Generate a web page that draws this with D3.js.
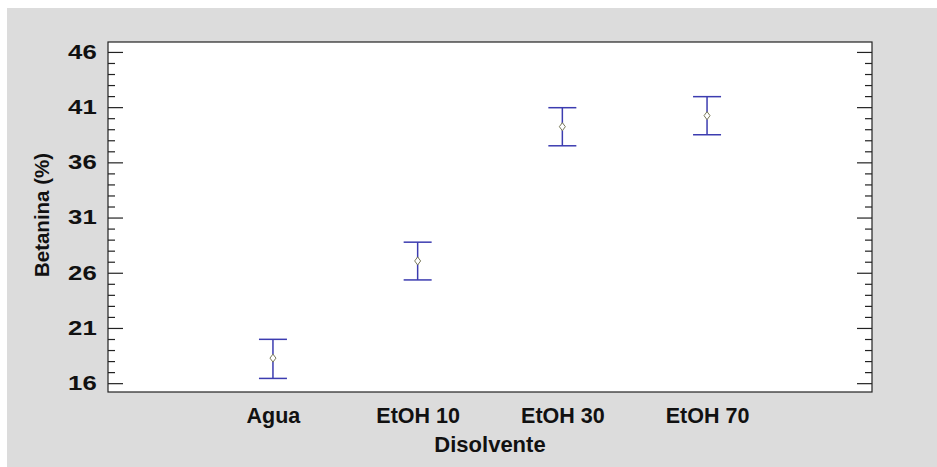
<!DOCTYPE html>
<html>
<head>
<meta charset="utf-8">
<script src="https://cdn.jsdelivr.net/npm/d3@7"></script>
<style>
  html, body { margin: 0; padding: 0; background: #ffffff; }
  svg { display: block; }
  text { font-family: "Liberation Sans", Arial, sans-serif; font-weight: bold; fill: #111; }
</style>
</head>
<body>
<svg id="chart" width="937" height="467"></svg>
<script>
// Solvent groups and betanin means with interval limits
const categories = ["Agua", "EtOH 10", "EtOH 30", "EtOH 70"];
const means = [18.27, 27.07, 39.23, 40.23];
const lower = [16.43, 25.35, 37.50, 38.50];
const upper = [19.97, 28.77, 40.95, 41.95];
const yTicks = [16, 21, 26, 31, 36, 41, 46];
const xTitle = "Disolvente";
const yTitle = "Betanina (%)";

const svg = d3.select("#chart");
const W = 937, H = 467;
const plot = { left: 108, right: 872, top: 42, bottom: 392 };

// grey panel behind the chart
svg.append("rect").attr("x", 7).attr("y", 8).attr("width", W - 7).attr("height", H - 8)
  .attr("fill", "#dcdcdc");

const x = d3.scalePoint().domain(categories).range([plot.left, plot.right]).padding(1.14);
const y = d3.scaleLinear().domain([15.2, 46.9]).range([plot.bottom, plot.top]);

// plot area
svg.append("rect").attr("x", plot.left).attr("y", plot.top)
  .attr("width", plot.right - plot.left).attr("height", plot.bottom - plot.top)
  .attr("fill", "#ffffff").attr("stroke", "#222").attr("stroke-width", 1.2);

// minor ticks every unit, major ticks on labelled values, on both sides pointing inward
const minor = d3.range(16, 47).filter(v => !yTicks.includes(v));
const axisL = g => g.attr("transform", `translate(${plot.left},0)`);
const leftMajor = svg.append("g").call(axisL)
  .call(d3.axisRight(y).tickValues(yTicks).tickSize(15).tickFormat(""));
const leftMinor = svg.append("g").call(axisL)
  .call(d3.axisRight(y).tickValues(minor).tickSize(7).tickFormat(""));
const rightMajor = svg.append("g").attr("transform", `translate(${plot.right},0)`)
  .call(d3.axisLeft(y).tickValues(yTicks).tickSize(15).tickFormat(""));
const rightMinor = svg.append("g").attr("transform", `translate(${plot.right},0)`)
  .call(d3.axisLeft(y).tickValues(minor).tickSize(7).tickFormat(""));
[leftMajor, leftMinor, rightMajor, rightMinor].forEach(g => {
  g.select(".domain").remove();
  g.selectAll("line").attr("stroke", "#222").attr("stroke-width", 1.2);
});

// y tick labels (wide digits)
const stretch = 1.32;
const yLab = svg.append("g").attr("transform", `translate(${plot.left},0)`)
  .call(d3.axisLeft(y).tickValues(yTicks).tickSize(0).tickPadding(11).tickFormat(d3.format("d")));
yLab.select(".domain").remove();
yLab.selectAll("text").attr("font-size", 19.5).attr("font-family", "Liberation Sans, Arial, sans-serif")
  .attr("font-weight", "bold").attr("fill", "#111")
  .attr("x", -11.3 / stretch).attr("transform", `scale(${stretch},1)`);

// x tick labels
const xLab = svg.append("g").attr("transform", `translate(0,${plot.bottom})`)
  .call(d3.axisBottom(x).tickSize(0).tickPadding(16));
xLab.select(".domain").remove();
xLab.selectAll("text").attr("font-size", 21.5).attr("font-family", "Liberation Sans, Arial, sans-serif")
  .attr("font-weight", "bold").attr("fill", "#111");

// axis titles
svg.append("text").attr("x", (plot.left + plot.right) / 2).attr("y", 452).attr("text-anchor", "middle")
  .attr("font-size", 22).text(xTitle);
svg.append("text").attr("transform", "translate(49,215) rotate(-90)").attr("text-anchor", "middle")
  .attr("font-size", 20.5).text(yTitle);

// interval bars
const blue = "#3c3cb0";
const cap = 14;
const bars = svg.append("g");
categories.forEach((c, i) => {
  const cx = x(c);
  bars.append("line").attr("x1", cx).attr("x2", cx).attr("y1", y(upper[i])).attr("y2", y(lower[i]))
    .attr("stroke", blue).attr("stroke-width", 1.5);
  bars.append("line").attr("x1", cx - cap).attr("x2", cx + cap).attr("y1", y(upper[i])).attr("y2", y(upper[i]))
    .attr("stroke", blue).attr("stroke-width", 1.5);
  bars.append("line").attr("x1", cx - cap).attr("x2", cx + cap).attr("y1", y(lower[i])).attr("y2", y(lower[i]))
    .attr("stroke", blue).attr("stroke-width", 1.5);
  // mean marker
  const my = y(means[i]);
  bars.append("path")
    .attr("d", `M${cx},${my - 4}L${cx + 3},${my}L${cx},${my + 4}L${cx - 3},${my}Z`)
    .attr("fill", "#ffffff").attr("stroke", "#7a7a5a").attr("stroke-width", 1);
});
</script>
</body>
</html>
